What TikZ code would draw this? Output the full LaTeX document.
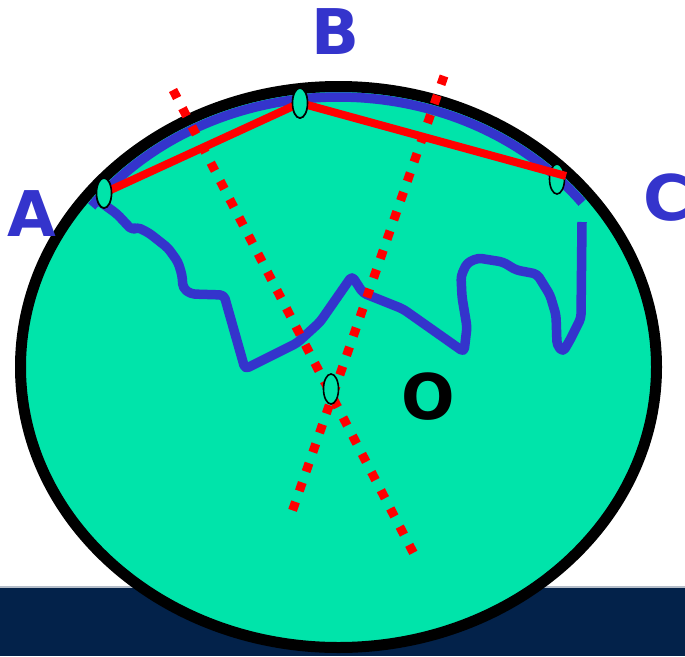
\documentclass[tikz,border=0pt]{standalone}
\usepackage{fontspec}
\newfontfamily\lblfont{DejaVu Sans}[BoldFont={DejaVu Sans Bold}]
\usetikzlibrary{shapes.geometric,calc}
\definecolor{mint}{RGB}{0,228,170}
\definecolor{coast}{RGB}{52,52,204}
\definecolor{navy}{RGB}{3,34,74}
\definecolor{redline}{RGB}{255,0,0}
\begin{document}
\begin{tikzpicture}[x=1pt,y=-1pt,
  pin/.style={ellipse,draw=black,line width=1.6pt,fill=mint,minimum width=15pt,minimum height=30pt,inner sep=0pt},
  chord/.style={draw=redline,line width=8pt},
  bisector/.style={draw=redline,line width=9pt,dash pattern=on 9pt off 11.5pt},
  coastline/.style={draw=coast,line width=9.5pt},
  letter/.style={font=\lblfont\bfseries\fontsize{63}{63}\selectfont,inner sep=0pt}]
\useasboundingbox (0,0) rectangle (685,656);
\fill[navy] (0,587) rectangle (685,656);
\fill[white!70!navy] (0,586) rectangle (685,588);
% earth
\draw[line width=11pt,fill=mint] (338.5,367) ellipse [x radius=318,y radius=280.5];
% blue arc along the surface
\draw[coastline] plot[domain=-143.5:-37.5,samples=80] ({338.5+307*cos(\x)},{367+270*sin(\x)});
% coastline
\draw[coastline,rounded corners=4pt,line join=round] (95,198) -- (117,214) -- (132,230) -- (137,227) -- (149,233) -- (168,248)
  -- (178,262) -- (182,275) -- (183,288) -- (191,294) -- (224,295) -- (245,369) -- (297,343) -- (320,322)
  -- (352,276) -- (363,293) -- (403,309) -- (464,352) -- (467,327) -- (462,297) -- (461,276) -- (467,263)
  -- (478,258) -- (503,262) -- (516,270) -- (537,274) -- (550,295) -- (556,315) -- (557,345) -- (563,352)
  -- (570,340) -- (581,318) -- (582,222);
% perpendicular bisectors
\coordinate (p1s) at (173,90);
\coordinate (p1e) at (415,556);
\coordinate (p2s) at (444,76);
\coordinate (p2e) at (292,512);
\draw[bisector] (p1s) -- (p1e);
\draw[bisector] (p2s) -- (p2e);
% points
\node[pin] (C) at (557,179) {};
\coordinate (Cend) at (566,176);
\node[pin] (A) at (104,193) {};
\node[pin] (B) at (300,103) {};
\draw[chord,line join=round] (A.center) -- (B.center) -- (Cend);
\node[pin] at (A) {};
\node[pin] at (B) {};
\node[pin] (O) at (331,389) {};
% labels
\node[letter,text=coast] (lA) at (32,214) {A};
\node[letter,text=coast] (lB) at (336,32) {B};
\node[letter,text=coast,anchor=west] (lC) at (643,198) {C};
\node[letter,text=black] (lO) at (428,397) {O};
\end{tikzpicture}
\end{document}
